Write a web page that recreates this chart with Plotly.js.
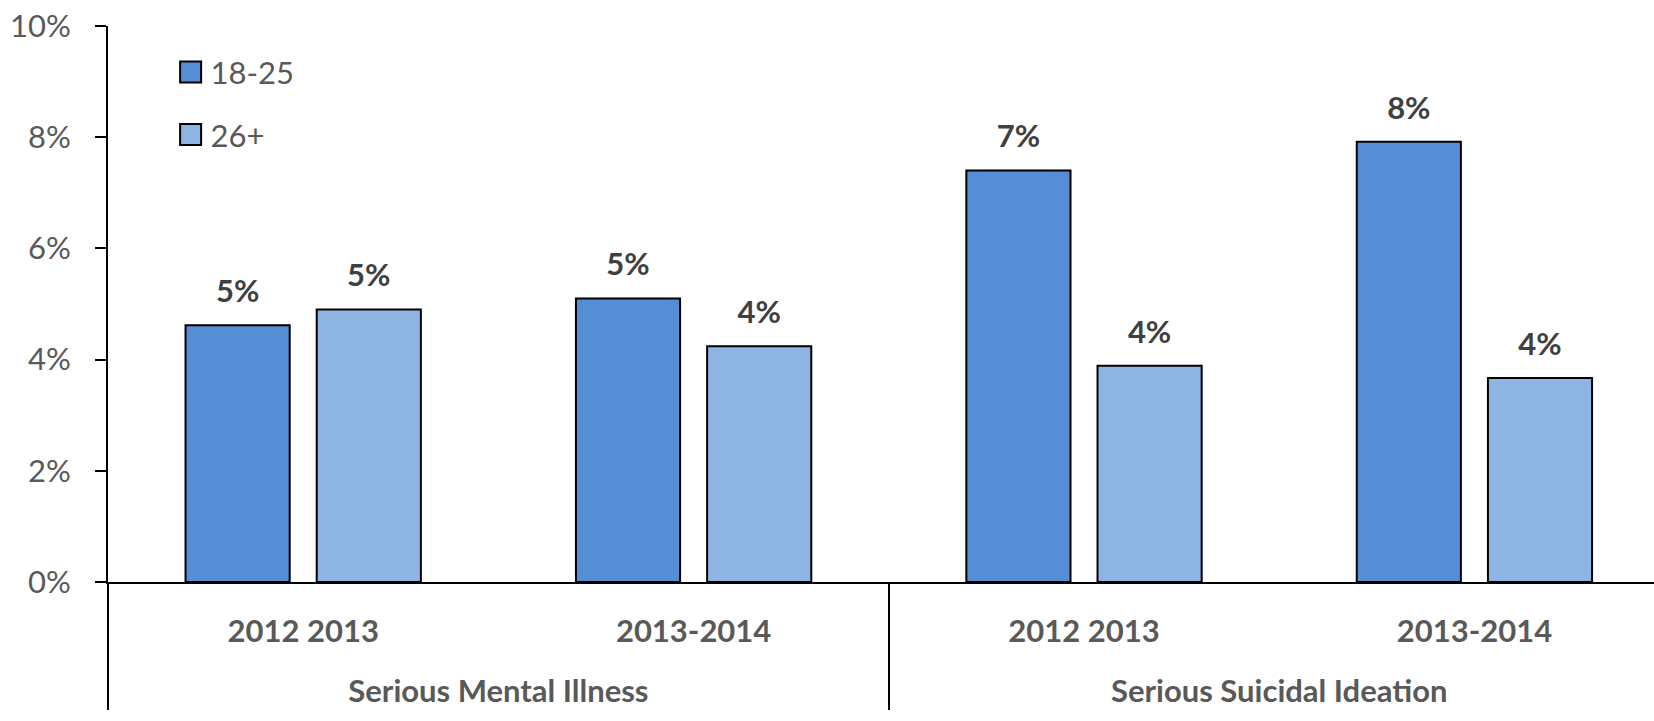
<!DOCTYPE html>
<html>
<head>
<meta charset="utf-8">
<script src="https://cdn.plot.ly/plotly-3.0.1.min.js"></script>
<style>html,body{margin:0;padding:0;background:#fff;}#chart{width:1654px;height:721px;}</style>
</head>
<body>
<div id="chart"></div>
<script>
// Data
const measures = ['Serious Mental Illness', 'Serious Mental Illness', 'Serious Suicidal Ideation', 'Serious Suicidal Ideation'];
const periods = ['2012 2013', '2013-2014', '2012 2013', '2013-2014'];
const age1825 = [4.62, 5.10, 7.40, 7.92];
const age26plus = [4.90, 4.24, 3.89, 3.67];
const labels1825 = ['5%', '5%', '7%', '8%'];
const labels26plus = ['5%', '4%', '4%', '4%'];
const seriesNames = ['18-25', '26+'];
const yTicks = [0, 2, 4, 6, 8, 10];

const FONT = 'Lato, Carlito, Calibri, "Open Sans", sans-serif';
// outer level label pushed one line lower (as in the reference)
const measureLabels = measures.map(m => '<br>' + m);
const xCats = [measureLabels, periods];

function barTrace(name, group, values, color) {
  return {
    type: 'bar', name: name, legendgroup: group,
    x: xCats, y: values,
    marker: {color: color, line: {color: '#000000', width: 2}},
    hoverinfo: 'none'
  };
}
function labelTrace(values, labels) {
  return {
    type: 'scatter', mode: 'markers+text', showlegend: false,
    x: xCats, y: values, text: labels,
    textposition: 'top center',
    cliponaxis: false,
    marker: {size: 23, color: 'rgba(0,0,0,0)', line: {width: 0}},
    textfont: {family: FONT, size: 31, color: '#404040', weight: 'bold'},
    hoverinfo: 'none'
  };
}

const traces = [
  barTrace(seriesNames[0], 'a', age1825, '#558ED5'),
  barTrace(seriesNames[1], 'b', age26plus, '#8EB4E3'),
  labelTrace(age1825, labels1825),
  labelTrace(age26plus, labels26plus)
];

const layout = {
  width: 1654,
  height: 721,
  margin: {l: 108, r: 0, t: 26, b: 139},
  paper_bgcolor: '#ffffff',
  plot_bgcolor: '#ffffff',
  barmode: 'group',
  bargap: 0.328,
  bargroupgap: 0.206,
  scattermode: 'group',
  scattergap: 0.328,
  font: {family: FONT, color: '#595959'},
  showlegend: true,
  legend: {
    x: 0.0405, y: 0.965, xanchor: 'left', yanchor: 'top',
    bgcolor: 'rgba(0,0,0,0)',
    font: {family: FONT, size: 31, color: '#595959'},
    tracegroupgap: 19
  },
  xaxis: {
    type: 'multicategory',
    range: [-0.5, 3.46],
    showline: true,
    linecolor: '#000000',
    linewidth: 2,
    ticks: '',
    showgrid: false,
    zeroline: false,
    showdividers: true,
    dividercolor: '#000000',
    dividerwidth: 1.5,
    ticklabelstandoff: 21,
    tickfont: {family: FONT, size: 31, color: '#595959', weight: 'bold'}
  },
  yaxis: {
    range: [0, 10],
    tickvals: yTicks,
    ticktext: yTicks.map(v => v + '%'),
    showline: true,
    linecolor: '#000000',
    linewidth: 2,
    ticks: 'outside',
    ticklen: 11,
    tickwidth: 2,
    tickcolor: '#000000',
    ticklabelstandoff: 18,
    showgrid: false,
    zeroline: false,
    tickfont: {family: FONT, size: 31, color: '#595959'}
  }
};

function enlargeSwatches(gd) {
  // enlarge legend swatches to match the reference
  gd.querySelectorAll('.legend .legendpoints path').forEach(function(p) {
    p.setAttribute('d', 'M10.5,10.5H-10.5V-10.5H10.5Z');
  });
}

const gdEl = document.getElementById('chart');
Plotly.newPlot(gdEl, traces, layout, {displayModeBar: false, staticPlot: true}).then(function(gd) {
  enlargeSwatches(gd);
  gd.on('plotly_afterplot', function() { enlargeSwatches(gd); });
  setTimeout(function() { enlargeSwatches(gd); }, 50);
});
</script>
</body>
</html>
